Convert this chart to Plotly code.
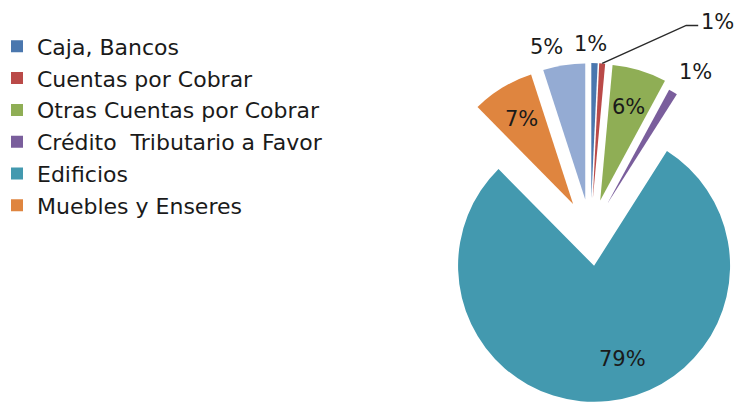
import math
import plotly.graph_objects as go

# ---- data ----
categories = ["Caja, Bancos", "Cuentas por Cobrar", "Otras Cuentas por Cobrar",
              "Crédito  Tributario a Favor", "Edificios", "Muebles y Enseres",
              "Equipo de Computación"]
values = [0.75, 0.70, 6.45, 1.10, 78.6, 7.4, 5.0]
legend_items = categories[:6]   # the reference legend only shows the first six

# ---- style ----
colors = ["#4A77AE", "#BA4A48", "#8FAE55", "#7A5E9C", "#4399AF", "#DF853F", "#94ABD3"]
W, H = 737, 402
CX, CY = 590.5, 232.5      # pie centre (px)
R = 136.0                  # slice radius (px)
EXPLODE = 33.5             # explosion distance (px)
FONT = "DejaVu Sans"
FS = 21
LFS = 22
TXT = "#1a1a1a"
# label placement: (mode, rho, dx, dy)
label_style = [("out", 1.14, -4, 0), ("lead", 1.0, 0, 0), ("in", 0.72, 0, 0),
               ("out", 1.16, 8, 4), ("in", 0.72, 18, -4), ("in", 0.73, 0, 0),
               ("out", 1.15, -14, 2)]
LEAD_AX, LEAD_AY = 115, -41


def X(px):
    return px / W


def Y(py):
    return 1 - py / H


total = sum(values)
fig = go.Figure()
annotations = []
shapes = []
cum = 0.0
for i, v in enumerate(values):
    mid = math.radians((cum + v / 2) / total * 360)
    cum += v
    ux, uy = math.sin(mid), -math.cos(mid)
    cx, cy = CX + EXPLODE * ux, CY + EXPLODE * uy
    r = min(R, cx - 0.01, W - cx - 0.01, cy - 0.01, H - cy - 0.01)
    fig.add_trace(go.Pie(
        values=values, labels=categories, sort=False, direction="clockwise",
        rotation=0, textinfo="none", showlegend=False,
        hoverinfo="label+percent",
        marker=dict(colors=[colors[j] if j == i else "rgba(0,0,0,0)" for j in range(len(values))],
                    line=dict(width=0)),
        domain=dict(x=[X(cx - r), X(cx + r)], y=[Y(cy + r), Y(cy - r)]),
    ))
    pct = f"{round(v / total * 100)}%"
    mode, rho, dx, dy = label_style[i]
    px_, py_ = cx + rho * R * ux, cy + rho * R * uy
    if mode == "lead":
        tx, ty = px_ + LEAD_AX, py_ + LEAD_AY
        shapes.append(dict(type="path", xref="paper", yref="paper",
                           path=f"M {X(px_)} {Y(py_)} L {X(tx - 31)} {Y(ty + 3)} L {X(tx - 19)} {Y(ty + 3)}",
                           line=dict(color="#2a2a2a", width=1.5)))
        annotations.append(dict(x=X(tx), y=Y(ty), xref="paper", yref="paper", text=pct,
                                showarrow=False, xanchor="center", yanchor="middle",
                                font=dict(family=FONT, size=FS, color=TXT)))
    else:
        annotations.append(dict(x=X(px_ + dx), y=Y(py_ + dy), xref="paper", yref="paper",
                                text=pct, showarrow=False, xanchor="center", yanchor="middle",
                                font=dict(family=FONT, size=FS, color=TXT)))

for k, (name, col) in enumerate(zip(legend_items, colors)):
    fig.add_trace(go.Scatter(x=[None], y=[None], mode="markers", name=name,
                             legendgroup=f"g{k}",
                             marker=dict(symbol="square", size=10, color=col),
                             hoverinfo="skip"))

fig.update_layout(
    width=W, height=H, margin=dict(l=0, r=0, t=0, b=0),
    paper_bgcolor="white", plot_bgcolor="white",
    xaxis=dict(visible=False), yaxis=dict(visible=False),
    showlegend=True,
    legend=dict(x=0, y=1 - 25.5 / H, xanchor="left", yanchor="top",
                font=dict(family=FONT, size=LFS, color=TXT),
                tracegroupgap=0.2, indentation=-3,
                bgcolor="rgba(0,0,0,0)", itemsizing="constant"),
    annotations=annotations, shapes=shapes,
)
fig.write_html("out.html")
